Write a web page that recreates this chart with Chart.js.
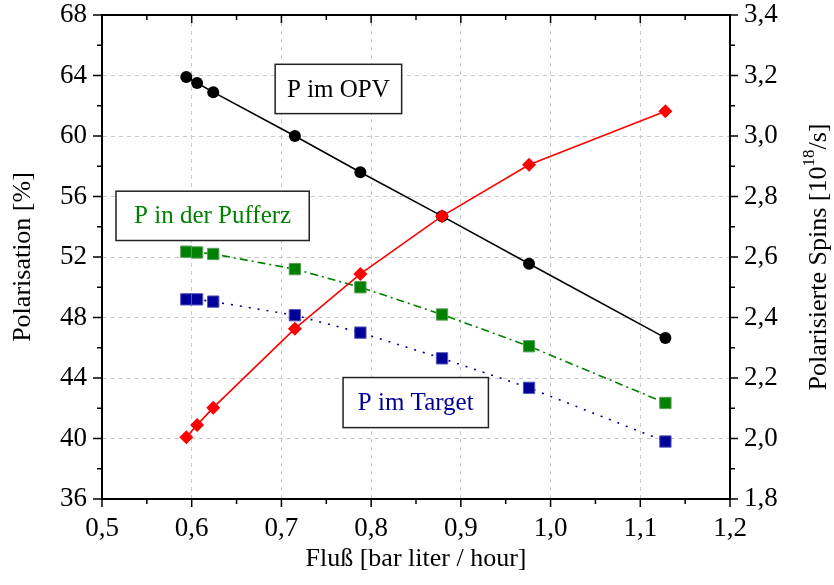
<!DOCTYPE html>
<html>
<head>
<meta charset="utf-8">
<title>Polarisation und Fluß</title>
<script src="https://cdn.jsdelivr.net/npm/chart.js@4/dist/chart.umd.min.js"></script>
<style>
  html, body { margin: 0; padding: 0; background: #fff; }
  #wrap { width: 834px; height: 585px; }
</style>
</head>
<body>
<div id="wrap"><canvas id="polChart" width="834" height="585"></canvas></div>
<script>
const flow      = [0.594, 0.606, 0.624, 0.715, 0.788, 0.879, 0.976, 1.128];
const polOPV    = [63.9, 63.5, 62.9, 60.0, 57.6, 54.7, 51.55, 46.65];
const polPuffer = [52.35, 52.3, 52.2, 51.2, 50.0, 48.2, 46.1, 42.35];
const polTarget = [49.2, 49.2, 49.05, 48.15, 47.0, 45.3, 43.35, 39.8];
const spins     = [2.004, 2.045, 2.102, 2.363, 2.544, 2.735, 2.905, 3.082];

// Achsenbereiche
const xRange    = [0.5, 1.2];
const polRange  = [36, 68];
const spinRange = [1.8, 3.4];

const serif = "'Liberation Serif', 'Times New Roman', serif";
Chart.defaults.font.family = serif;
Chart.defaults.color = "#000";

function pts(ys) {
    return flow.map(function (x, i) { return { x: x, y: ys[i] }; });
}
function komma(v) {
    return v.toFixed(1).replace(".", ",");
}

// Textkästen im Diagramm (Datenkoordinaten)
const boxes = [
    { text: "P im OPV",         color: "#000000", x0: 0.693, x1: 0.834, y0: 64.74, y1: 61.48 },
    { text: "P in der Pufferz", color: "#008000", x0: 0.5156, x1: 0.731, y0: 56.35, y1: 53.09 },
    { text: "P im Target",      color: "#000099", x0: 0.7687, x1: 0.9307, y0: 44.03, y1: 40.72 }
];

const decorations = {
    id: "decorations",
    afterDraw(chart) {
        const ctx = chart.ctx;
        const a = chart.chartArea;
        const sx = chart.scales.x, sy = chart.scales.y, s2 = chart.scales.y2;

        ctx.save();
        ctx.strokeStyle = "#000";
        ctx.lineWidth = 2;
        ctx.beginPath();
        ctx.moveTo(a.left - 1, a.top);
        ctx.lineTo(a.right + 1, a.top);
        ctx.stroke();

        // Haupt- und Nebenstriche
        ctx.lineWidth = 1.5;
        ctx.beginPath();
        let n = Math.round((sx.max - sx.min) / 0.05);
        for (let i = 0; i <= n; i++) {
            const p = sx.getPixelForValue(sx.min + i * 0.05);
            const L = i % 2 === 0 ? 8 : 5;
            ctx.moveTo(p, a.bottom); ctx.lineTo(p, a.bottom + L);
            ctx.moveTo(p, a.top); ctx.lineTo(p, a.top + L);
        }
        n = Math.round((sy.max - sy.min) / 2);
        for (let i = 0; i <= n; i++) {
            const p = sy.getPixelForValue(sy.min + i * 2);
            ctx.moveTo(a.left, p); ctx.lineTo(a.left - (i % 2 === 0 ? 9 : 5), p);
        }
        n = Math.round((s2.max - s2.min) / 0.1);
        for (let i = 0; i <= n; i++) {
            const p = s2.getPixelForValue(s2.min + i * 0.1);
            ctx.moveTo(a.right, p); ctx.lineTo(a.right + (i % 2 === 0 ? 8 : 5), p);
        }
        ctx.stroke();

        // Textkästen
        ctx.font = "25px " + serif;
        ctx.textAlign = "center";
        ctx.textBaseline = "middle";
        boxes.forEach(function (b) {
            const l = sx.getPixelForValue(b.x0), r = sx.getPixelForValue(b.x1);
            const t = sy.getPixelForValue(b.y0), btm = sy.getPixelForValue(b.y1);
            ctx.fillStyle = "#fff";
            ctx.fillRect(l, t, r - l, btm - t);
            ctx.strokeStyle = "#222";
            ctx.lineWidth = 1.5;
            ctx.strokeRect(l, t, r - l, btm - t);
            ctx.fillStyle = b.color;
            ctx.fillText(b.text, (l + r) / 2, (t + btm) / 2 + 1);
        });

        // rechte Achsenbeschriftung mit Exponent
        const parts = ["Polarisierte Spins [10", "18", "/s]"];
        const big = "26px " + serif, small = "17px " + serif;
        ctx.font = big;
        const w0 = ctx.measureText(parts[0]).width, w2 = ctx.measureText(parts[2]).width;
        ctx.font = small;
        const w1 = ctx.measureText(parts[1]).width;
        const total = w0 + w1 + w2;
        ctx.translate(a.right + 89, (a.top + a.bottom) / 2);
        ctx.rotate(-Math.PI / 2);
        ctx.fillStyle = "#000";
        ctx.textAlign = "left";
        ctx.textBaseline = "middle";
        let x = -total / 2;
        ctx.font = big; ctx.fillText(parts[0], x, 0); x += w0;
        ctx.font = small; ctx.fillText(parts[1], x, -9); x += w1;
        ctx.font = big; ctx.fillText(parts[2], x, 0);
        ctx.restore();
    }
};

function fitY(width) {
    return function (s) {
        s.width = width;
        s.paddingTop = 0;
        s.paddingBottom = 0;
    };
}

const ctx = document.getElementById("polChart");

new Chart(ctx, {
    type: "line",
    data: {
        datasets: [
            {
                label: "Polarisierte Spins",
                data: pts(spins),
                yAxisID: "y2",
                borderColor: "#ff0000",
                backgroundColor: "#ff0000",
                borderWidth: 1.6,
                pointStyle: "rectRot",
                pointRadius: 7,
                pointBorderWidth: 0
            },
            {
                label: "P im OPV",
                data: pts(polOPV),
                yAxisID: "y",
                borderColor: "#000000",
                backgroundColor: "#000000",
                borderWidth: 1.6,
                pointStyle: "circle",
                pointRadius: 6,
                pointBorderWidth: 0
            },
            {
                label: "P in der Pufferzelle",
                data: pts(polPuffer),
                yAxisID: "y",
                borderColor: "#008000",
                backgroundColor: "#008000",
                borderWidth: 1.6,
                borderDash: [8, 4, 2, 4],
                pointStyle: "rect",
                pointRadius: 8,
                pointBorderColor: "#55a055",
                pointBorderWidth: 1
            },
            {
                label: "P im Target",
                data: pts(polTarget),
                yAxisID: "y",
                borderColor: "#000099",
                backgroundColor: "#000099",
                borderWidth: 1.6,
                borderDash: [2, 7],
                pointStyle: "rect",
                pointRadius: 8,
                pointBorderColor: "#5555bb",
                pointBorderWidth: 1
            }
        ]
    },
    options: {
        responsive: false,
        animation: false,
        devicePixelRatio: 1,
        layout: { padding: { top: 15, left: 0, right: 0, bottom: 0 } },
        plugins: {
            legend: { display: false },
            tooltip: { enabled: false }
        },
        elements: { line: { tension: 0 } },
        scales: {
            x: {
                type: "linear",
                min: xRange[0],
                max: xRange[1],
                afterFit: function (s) {
                    s.height = 86;
                    s.paddingLeft = 0;
                    s.paddingRight = 0;
                },
                ticks: {
                    stepSize: 0.1,
                    padding: 14,
                    maxRotation: 0,
                    autoSkip: false,
                    font: { size: 27 },
                    callback: function (v) { return komma(v); }
                },
                grid: { color: "#c8c8c8", lineWidth: 1, drawTicks: false },
                border: { color: "#000", width: 2, dash: [4, 4] },
                title: {
                    display: true,
                    text: "Fluß [bar liter / hour]",
                    font: { size: 26 },
                    padding: { top: 4, bottom: 10 }
                }
            },
            y: {
                position: "left",
                min: polRange[0],
                max: polRange[1],
                afterFit: fitY(102),
                ticks: {
                    stepSize: 4,
                    padding: 15,
                    font: { size: 27 }
                },
                grid: { color: "#c8c8c8", lineWidth: 1, drawTicks: false },
                border: { color: "#000", width: 2, dash: [4, 4] },
                title: {
                    display: true,
                    text: "Polarisation [%]",
                    font: { size: 26 },
                    padding: { top: 8, bottom: 4 }
                }
            },
            y2: {
                position: "right",
                min: spinRange[0],
                max: spinRange[1],
                afterFit: fitY(104),
                ticks: {
                    stepSize: 0.2,
                    padding: 14,
                    font: { size: 27 },
                    callback: function (v) { return komma(v); }
                },
                grid: { display: false, drawTicks: false },
                border: { color: "#000", width: 2 }
            }
        }
    },
    plugins: [decorations]
});
</script>
</body>
</html>
